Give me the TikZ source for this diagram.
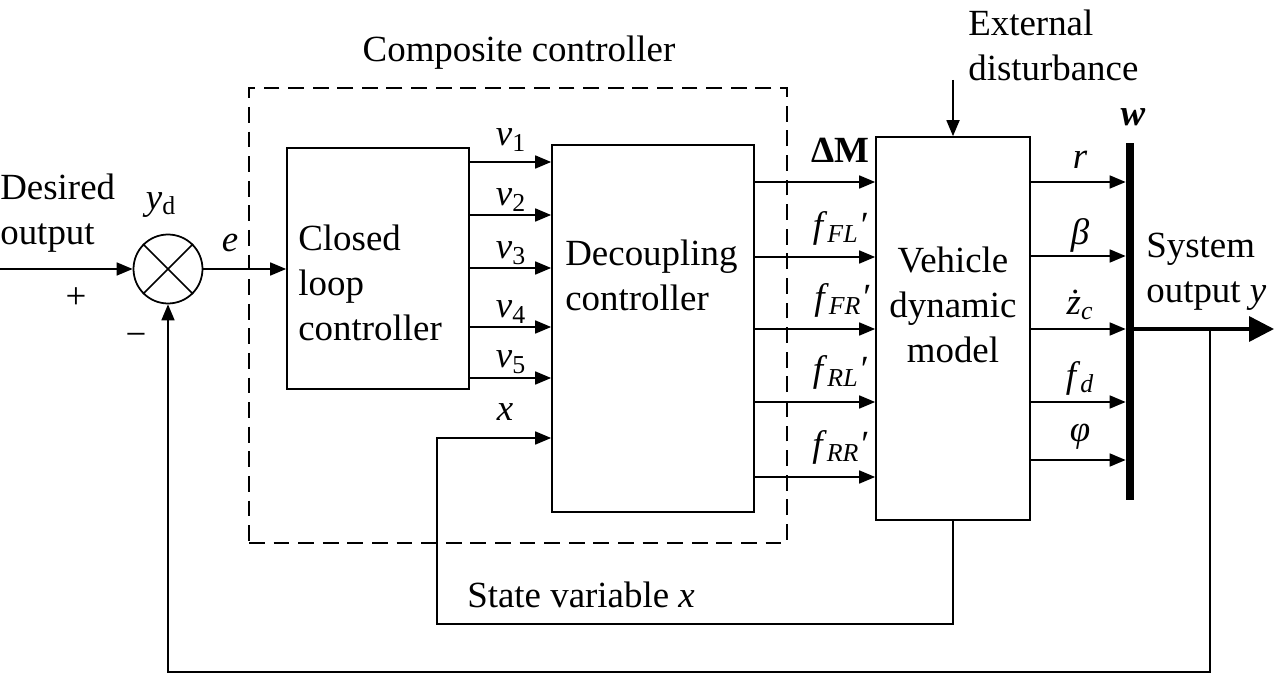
\documentclass[tikz,border=0pt]{standalone}
\usepackage{fontspec}
\setmainfont{Liberation Serif}
\usetikzlibrary{arrows.meta,positioning}
\tikzset{
  blk/.style={draw, line width=1pt, inner sep=0pt},
  sig/.style={-{Triangle[length=3.2mm,width=2.6mm]}, line width=1pt},
  txt/.style={inner sep=0pt, align=left},
  lbl/.style={inner sep=0pt},
}
\newcommand{\fsub}[2]{\textit{f}\textsubscript{\textit{#1}}\textit{#2}}

\begin{document}
\begin{tikzpicture}[x=0.02cm,y=-0.02cm,font=\fontsize{21}{25.5}\selectfont]
  \useasboundingbox (0,0) rectangle (1275,675);
  % blocks
  \node[circle,draw,line width=1pt,minimum size=1.38cm,inner sep=0pt] (sum) at (168,269) {};
  \draw[line width=1pt] (sum.north west) -- (sum.south east);
  \draw[line width=1pt] (sum.south west) -- (sum.north east);
  \node[blk,minimum width=3.64cm,minimum height=4.82cm] (cl) at (378,268.5) {};
  \node[blk,minimum width=4.04cm,minimum height=7.34cm] (dc) at (653,328.5) {};
  \node[blk,minimum width=3.08cm,minimum height=7.66cm] (vm) at (953,328.5) {};
  \node[fill,minimum width=0.16cm,minimum height=7.14cm,inner sep=0pt] (bar) at (1130,321.5) {};
  \node[draw,dash pattern=on 9pt off 5pt,line width=0.8pt,minimum width=10.76cm,minimum height=9.1cm,inner sep=0pt] (cc) at (518,315.5) {};
  % texts
  \node[txt,anchor=west] (cltxt) at (298,283) {Closed\\loop\\controller};
  \node[txt,anchor=west] (dctxt) at (565,275) {Decoupling\\controller};
  \node[txt,align=center] (vmtxt) at (953,305) {Vehicle\\dynamic\\model};
  \node[lbl] (cctxt) at (519,53) {Composite controller};
  \node[txt,anchor=west] (edtxt) at (968,45) {External\\disturbance};
  \node[txt,anchor=west] (dotxt) at (0,213) {Desired\\output};
  \node[txt,anchor=west] (sotxt) at (1146,272) {System\\output \textit{y}};
  \node[lbl] (svtxt) at (581,595) {State variable \textit{x}};
  % points
  \coordinate (in) at (0,269);
  \coordinate (dist) at (953,80);
  \coordinate (out) at (1274,329);
  \coordinate (tap) at (1210,329);
  \coordinate (fb) at (168,672);
  \coordinate (xfb) at (437,624);
  % connectors
  \draw[sig] (in) -- (sum.west);
  \draw[sig] (sum.east) -- (cl.west |- sum.east);
  \foreach \y in {162,215,268,327,378}
    \draw[sig] (cl.east |- 0,\y) -- (dc.west |- 0,\y);
  \foreach \y in {182,257,329,402,477}
    \draw[sig] (dc.east |- 0,\y) -- (vm.west |- 0,\y);
  \foreach \y in {182,256,329,402,460}
    \draw[sig] (vm.east |- 0,\y) -- (bar.west |- 0,\y);
  \draw[sig] (dist) -- (vm.north);
  \draw[sig] (vm.south) |- (xfb) |- (dc.west |- 0,438);
  \draw[line width=2pt,-{Triangle[length=5mm,width=5mm]}] (bar.east |- out) -- (out);
  \draw[sig] (tap) |- (fb) -- (sum.south);
  % signal labels
  \node[lbl] (yd) at (161,205) {\textit{y}\textsubscript{d}};
  \node[lbl] (plus) at (76,298) {+};
  \node[lbl] (minus) at (136,340) {−};
  \node[lbl] (e) at (230,243) {\textit{e}};
  \foreach \y/\n in {140/1,200/2,253/3,312/4,362/5}
    \node[lbl] (v\n) at (511,\y) {\textit{v}\textsubscript{\n}};
  \node[lbl] (xin) at (505,412) {\textit{x}};
  \node[lbl] (dM) at (840,150) {\textbf{ΔM}};
  \node[lbl] (fFL) at (840,228) {\fsub{FL}{′}};
  \node[lbl] (fFR) at (842,300) {\fsub{FR}{′}};
  \node[lbl] (fRL) at (840,372) {\fsub{RL}{′}};
  \node[lbl] (fRR) at (840,447) {\fsub{RR}{′}};
  \node[lbl] (r) at (1080,160) {\textit{r}};
  \node[lbl] (beta) at (1080,235) {\textit{β}};
  \node[lbl] (zc) at (1080,305) {\textit{ż}\textsubscript{\textit{c}}};
  \node[lbl] (fd) at (1080,378) {\fsub{d}{}};
  \node[lbl] (phi) at (1080,437) {\textit{φ}};
  \node[lbl] (w) at (1133,117) {\textbf{\textit{w}}};
\end{tikzpicture}
\end{document}
